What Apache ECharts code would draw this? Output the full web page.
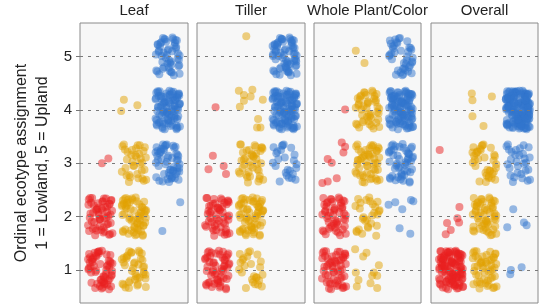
<!DOCTYPE html>
<html>
<head>
<meta charset="utf-8">
<script src="https://cdn.jsdelivr.net/npm/echarts@6/dist/echarts.min.js"></script>
<style>
  html, body { margin: 0; padding: 0; background: #fff; }
  #chart { width: 548px; height: 305px; }
</style>
</head>
<body>
<div id="chart"></div>
<script>
// facets and groups
const panels = ['Leaf', 'Tiller', 'Whole Plant/Color', 'Overall'];
const groups = ['Lowland', 'Coastal', 'Upland'];
const colors = ['#EA1F1F', '#E1A202', '#3176CD'];
const levels = [1, 2, 3, 4, 5];

// number of jittered points per group (rows) and level 1..5 (columns), dense cells only
const leafCounts    = [[58, 55, 0, 0, 0], [40, 60, 35, 0, 0], [0, 0, 55, 90, 50]];
const tillerCounts  = [[55, 52, 0, 0, 0], [25, 60, 40, 0, 0], [0, 0, 25, 100, 65]];
const wholeCounts   = [[55, 50, 0, 0, 0], [0, 28, 50, 45, 0], [0, 0, 50, 100, 40]];
const overallCounts = [[105, 0, 0, 0, 0], [50, 55, 35, 0, 0], [0, 0, 30, 160, 0]];

// sparse points read one by one, [x, y]
const leafExtra = [
  [[1.05, 3.00], [1.24, 3.09]],
  [[1.70, 4.19], [1.62, 3.98], [2.10, 4.09]],
  [[3.37, 2.27], [2.84, 1.73]]
];
const tillerExtra = [
  [[0.87, 3.14], [0.74, 2.89], [1.19, 2.95], [1.26, 2.80], [0.95, 4.05]],
  [[1.64, 4.36], [1.79, 4.28], [2.04, 4.38], [1.99, 4.25], [1.79, 4.17], [1.67, 4.06],
   [2.35, 4.19], [2.21, 3.83], [2.28, 3.67], [2.18, 3.67], [1.86, 5.38]],
  []
];
const wholeExtra = [
  [[1.28, 3.20], [0.81, 3.08], [0.93, 3.01], [0.65, 2.63], [0.81, 2.66], [1.08, 2.72],
   [1.23, 3.39], [1.33, 3.31], [1.33, 4.01]],
  [[1.63, 1.39], [1.87, 1.25], [1.97, 1.32], [1.65, 0.95], [1.73, 0.81], [1.68, 0.69],
   [2.19, 0.95], [2.09, 0.75], [2.29, 0.66], [2.34, 1.09], [2.14, 0.89], [2.29, 0.89],
   [1.65, 5.11], [1.91, 4.88]],
  [[2.63, 2.22], [2.83, 2.27], [3.04, 2.14], [3.30, 2.31], [3.37, 2.29], [2.96, 1.78], [3.28, 1.68]]
];
const overallExtra = [
  [[0.66, 3.25], [1.25, 2.18], [0.88, 1.88], [1.19, 1.97], [0.99, 1.75], [0.84, 1.67], [1.24, 1.89]],
  [[1.62, 4.31], [1.64, 4.18], [2.22, 4.25], [1.64, 3.88], [1.97, 3.70]],
  [[2.86, 2.14], [2.68, 1.80], [3.18, 1.89], [3.26, 1.84], [2.79, 1.00], [2.77, 0.92], [3.11, 1.05]]
];

// jitter offsets, hundredths of a unit
const jitterX = [
  -31, 12, 27, -8, 3, -22, 34, -15, 19, -35, 6, 29, -27, -3, 15, -19, 32, -11, 24, 0,
  -33, 9, 21, -25, 35, -6, 13, -29, 28, -13, 4, 31, -20, 17, -1, -34, 25, 10, -17, 33,
  -9, 22, -30, 7, 18, -23, 1, 30, -14, 26, -36, 11, -4, 20, -26, 36, -12, 5, -32, 16,
  -7, 28, -21, 14, -28, 2, 34, -16, 23, -2, 8, -33, 30, -10, 19, -24, 12, -35, 26, -5,
  21, -18, 3, 33, -29, 9, -12, 27, -1, -31, 17, -22, 35, 6, -15, 24, -8, 31, -27, 13,
  0, -34, 20, 10, -19, 29, -4, 15, -25, 32, -11, 4, 23, -30, 18, -6, 36, -21, 7, -14,
  28, -36, 11, -2, 25, -17, 34, -9, 2, -28, 19, 14, -33, 30, -13, 5, 22, -24, 8, -3,
  -20, 31, -7, 16, -32, 26, 1, -16, 35, -10, 12, -26, 21, -1, 33, -23, 6, -35, 27, 3,
  -12, 18, -29, 24, 9, -5, 32, -18, 14, -31, 0, 29, -22, 11, -8, 35, -27, 20, 4, -15,
  25, -3, -34, 16, 7, -19, 30, -11, 2, -25, 23, -6, 34, -30, 13, 10, -14, 28, -36, 17
];
const jitterY = [
  14, -27, 5, 33, -18, 22, -9, -34, 29, 1, -23, 16, -5, 35, -14, 8, -31, 25, -20, 11,
  30, -12, -28, 19, -2, 34, -25, 6, -16, 27, -35, 13, 21, -7, -30, 3, 17, -22, 32, -11,
  -26, 9, 24, -33, 0, 15, -19, 28, -4, -36, 20, -13, 31, 7, -24, 12, -1, 36, -29, 23,
  -8, -17, 26, 2, 33, -21, 10, -32, 18, -6, 29, -27, 4, 14, -15, 35, -3, 22, -34, 8,
  19, -10, -25, 31, 6, -30, 13, 24, -18, -2, 34, -23, 11, 28, -35, 1, 16, -12, 26, -28,
  -5, 32, 9, -20, 21, -33, 3, 18, -9, 30, -26, 15, -14, 35, -1, 25, -31, 7, 12, -22,
  23, -16, 34, -4, -29, 10, 27, -36, 17, 5, -11, 31, -19, 0, 24, -8, -34, 20, 13, -25,
  -3, 29, -17, 8, 35, -24, 16, -10, 2, 33, -30, 11, 26, -13, -6, 19, -27, 4, 30, -21,
  7, -35, 22, 15, -9, 28, -18, 1, 36, -28, 12, -4, 25, -15, 32, -32, 9, 21, -7, -23,
  18, 3, -26, 33, -12, 27, 6, -20, 14, -33, 31, -2, -16, 23, 10, -29, 35, -8, 20, -14
];

const panelCounts = [leafCounts, tillerCounts, wholeCounts, overallCounts];
const panelExtra = [leafExtra, tillerExtra, wholeExtra, overallExtra];

const gridLefts = [80, 197, 314, 431];
const gridWidths = [108, 108, 107, 107];
const FONT = 'Liberation Sans, Arial, sans-serif';

const grids = [], xAxes = [], yAxes = [], series = [], graphics = [];

panels.forEach((name, p) => {
  grids.push({
    left: gridLefts[p], width: gridWidths[p], top: 23, height: 280,
    show: true, backgroundColor: '#F7F7F7', borderColor: '#8a8a8a', borderWidth: 1
  });
  xAxes.push({ gridIndex: p, type: 'value', min: 0.4, max: 3.6, show: false });
  yAxes.push({
    gridIndex: p, type: 'value', min: 0.38, max: 5.63, show: p === 0,
    axisLine: { show: false },
    splitLine: { show: false },
    axisTick: { show: true, length: 4, customValues: levels, lineStyle: { color: '#777' } },
    axisLabel: {
      customValues: levels, fontSize: 15, color: '#222', fontFamily: FONT, margin: 8,
      formatter: v => (Number.isInteger(v) ? String(v) : '')
    }
  });
  graphics.push({
    type: 'text', x: gridLefts[p] + gridWidths[p] / 2, y: 3,
    style: { text: name, textAlign: 'center', fill: '#222', font: '15px ' + FONT }
  });

  // dashed reference lines under the points
  series.push({
    type: 'scatter', xAxisIndex: p, yAxisIndex: p, data: [], z: 1, silent: true,
    markLine: {
      silent: true, symbol: ['none', 'none'], label: { show: false },
      lineStyle: { type: [3, 5], color: '#7a7a7a', width: 1 },
      data: levels.map(v => ({ yAxis: v }))
    }
  });

  let k = p * 37;
  groups.forEach((g, gi) => {
    const data = panelExtra[p][gi].slice();
    panelCounts[p][gi].forEach((n, li) => {
      for (let i = 0; i < n; i++) {
        const idx = (k + i) % jitterX.length;
        data.push([gi + 1 + jitterX[idx] / 100, levels[li] + jitterY[idx] / 100]);
      }
      k += n + 11;
    });
    series.push({
      name: g, type: 'scatter', xAxisIndex: p, yAxisIndex: p, z: 2,
      symbolSize: 8, data: data,
      itemStyle: { color: colors[gi], opacity: 0.5 }
    });
  });
});

graphics.push({
  type: 'text', x: 22, y: 163, rotation: Math.PI / 2,
  style: { text: 'Ordinal ecotype assignment', textAlign: 'center', textVerticalAlign: 'middle',
           fill: '#222', font: '16px ' + FONT }
});
graphics.push({
  type: 'text', x: 43, y: 163, rotation: Math.PI / 2,
  style: { text: '1 = Lowland, 5 = Upland', textAlign: 'center', textVerticalAlign: 'middle',
           fill: '#222', font: '16px ' + FONT }
});

const chart = echarts.init(document.getElementById('chart'), null, { renderer: 'canvas' });
chart.setOption({
  animation: false,
  grid: grids,
  xAxis: xAxes,
  yAxis: yAxes,
  series: series,
  graphic: graphics
});
</script>
</body>
</html>
